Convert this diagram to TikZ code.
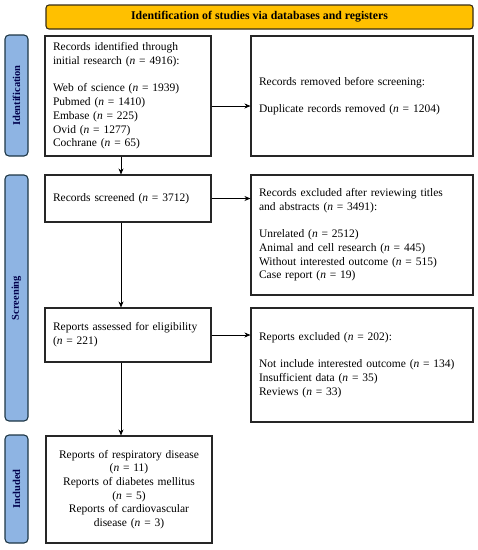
\documentclass[tikz,border=0pt]{standalone}
\usepackage{fontspec}
\setmainfont{Liberation Serif}
\usetikzlibrary{arrows.meta}
\definecolor{bannerfill}{RGB}{255,192,0}
\definecolor{bannerline}{RGB}{55,45,20}
\definecolor{sidefill}{RGB}{142,180,227}
\definecolor{sideline}{RGB}{30,55,70}

\begin{document}
\begin{tikzpicture}[x=1pt,y=-1pt,
    box/.style={draw=black!85,line width=1.1pt,inner xsep=8pt,inner ysep=0pt,
      font=\fontsize{11.5}{13.7}\selectfont},
    lbox/.style={box,minimum width=166pt,text width=150pt,align=left},
    rbox/.style={box,minimum width=222pt,text width=206pt,align=left},
    side/.style={draw=sideline,fill=sidefill,line width=1.1pt,
      rounded corners=4pt,rotate=90,minimum height=23pt,inner sep=0pt,
      text=black!70!blue,font=\fontsize{10.5}{12}\selectfont\bfseries},
    flow/.style={-{Stealth[length=6pt,width=5pt]},line width=0.7pt}]
    \useasboundingbox (0,0) rectangle (478,550);

    % banner
    \node[draw=bannerline,fill=bannerfill,line width=1.1pt,rounded corners=3pt,
      minimum width=427pt,minimum height=24pt,inner sep=0pt,
      font=\fontsize{11.8}{13}\selectfont\bfseries] (head) at (259.5,17)
      {Identification of studies via databases and registers};

    % side bars
    \node[side,minimum width=121pt] (sideid) at (16.5,95.5) {Identification};
    \node[side,minimum width=246pt] (sidescr) at (16.5,298) {Screening};
    \node[side,minimum width=108pt] (sideinc) at (16.5,489) {Included};

    % Identification
    \node[lbox,minimum height=120pt] (ident) at (128,96)
      {Records identified through\\initial research (\textit{n} = 4916):\\[13.7pt]
       Web of science (\textit{n} = 1939)\\Pubmed (\textit{n} = 1410)\\
       Embase (\textit{n} = 225)\\Ovid (\textit{n} = 1277)\\Cochrane (\textit{n} = 65)};
    \node[rbox,minimum height=120pt] (removed) at (362,96)
      {Records removed before screening:\\[13.7pt]
       Duplicate records removed (\textit{n} = 1204)};

    % Screening
    \node[lbox,minimum height=47pt] (screened) at (128,198.5)
      {Records screened (\textit{n} = 3712)};
    \node[rbox,minimum height=120pt] (excluded) at (362,235)
      {Records excluded after reviewing titles\\and abstracts (\textit{n} = 3491):\\[13.7pt]
       Unrelated (\textit{n} = 2512)\\Animal and cell research (\textit{n} = 445)\\
       Without interested outcome (\textit{n} = 515)\\Case report (\textit{n} = 19)};
    \node[lbox,minimum height=54pt] (eligible) at (128,335)
      {Reports assessed for eligibility\\(\textit{n} = 221)};
    \node[rbox,minimum height=114pt] (repexcl) at (362,365)
      {Reports excluded (\textit{n} = 202):\\[13.7pt]
       Not include interested outcome (\textit{n} = 134)\\
       Insufficient data (\textit{n} = 35)\\Reviews (\textit{n} = 33)};

    % Included
    \node[lbox,minimum height=107pt,align=center] (included) at (129,489.5)
      {Reports of respiratory disease\\(\textit{n} = 11)\\Reports of diabetes mellitus\\
       (\textit{n} = 5)\\Reports of cardiovascular\\disease (\textit{n} = 3)};

    % arrows
    \draw[flow] ([yshift=-10pt]ident.east) -- ([yshift=-10pt]ident.east -| removed.west);
    \draw[flow] (screened.east) -- (screened.east -| excluded.west);
    \draw[flow] (eligible.east) -- (eligible.east -| repexcl.west);
    \draw[flow] ([xshift=-7pt]ident.south) -- ([xshift=-7pt]ident.south |- screened.north);
    \draw[flow] ([xshift=-7pt]screened.south) -- ([xshift=-7pt]screened.south |- eligible.north);
    \draw[flow] ([xshift=-7pt]eligible.south) -- ([xshift=-7pt]eligible.south |- included.north);
\end{tikzpicture}
\end{document}
